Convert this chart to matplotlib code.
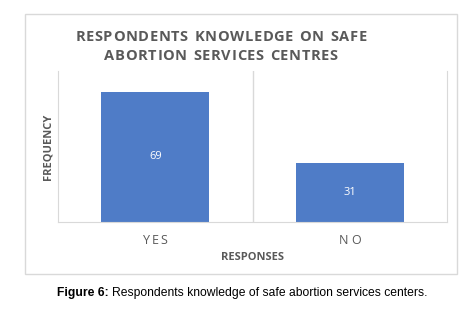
import matplotlib

matplotlib.use("Agg")

import matplotlib.pyplot as plt
from matplotlib.patches import Rectangle

categories = ["YES", "NO"]
frequency = [69, 31]
title_lines = ["RESPONDENTS KNOWLEDGE ON SAFE", "ABORTION SERVICES CENTRES"]

GREY_TEXT = "#595959"
GRID = "#d9d9d9"
BAR = "#4f7cc7"

fig = plt.figure(figsize=(4.72, 3.10), dpi=100, facecolor="white")
renderer = fig.canvas.get_renderer()


def spaced_text(cx, y, s, spacing_px, **kw):
    # draw a string letter by letter with extra tracking, centred on cx (pixels)
    widths = []
    for ch in s:
        t = fig.text(0, 0, ch if ch != " " else "n", **kw)
        w = t.get_window_extent(renderer).width
        widths.append(w * (0.55 if ch == " " else 1.0))
        t.remove()
    total = sum(widths) + spacing_px * (len(s) - 1)
    px = cx - total / 2
    for ch, w in zip(s, widths):
        if ch != " ":
            fig.text(px / 472, 1 - y / 310, ch, ha="left", va="center", **kw)
        px += w + spacing_px


# outer chart border
fig.add_artist(Rectangle((25 / 472, 1 - 274 / 310), 432 / 472, 260 / 310,
                         transform=fig.transFigure, fill=False, edgecolor=GRID, linewidth=1))

ax = fig.add_axes([58 / 472, 1 - 222 / 310, 389 / 472, 151 / 310])
x = list(range(len(categories)))
bars = ax.bar(x, frequency, width=0.555, color=BAR, zorder=2)
ax.set_xlim(-0.5, len(categories) - 0.5)
ax.set_ylim(0, 80)
ax.axvline(0.5, color=GRID, linewidth=1, zorder=1)
for side in ("left", "right", "bottom"):
    ax.spines[side].set_color(GRID)
ax.spines["top"].set_visible(False)
ax.set_yticks([])
ax.set_xticks([])

tick_style = dict(fontsize=9, color=GREY_TEXT, family="Open Sans")
for i, lab in enumerate(categories):
    cx = 58 + 389 * (i + 0.5) / len(categories)
    spaced_text(cx, 240, lab, 1.5 if lab == "YES" else 3.0, **tick_style)

for rect, val in zip(bars, frequency):
    ax.text(rect.get_x() + rect.get_width() / 2, val / 2, str(val), ha="center", va="center",
            color="white", fontsize=8, family="Open Sans")

fig.text(252 / 472, 1 - 258 / 310, "RESPONSES", ha="center", va="center", fontsize=8,
         color=GREY_TEXT, fontweight="bold", family="Open Sans")
fig.text(48 / 472, 1 - 147 / 310, "FREQUENCY", ha="center", va="center", rotation=90,
         fontsize=8, color=GREY_TEXT, fontweight="bold", family="Open Sans")

title_style = dict(fontsize=10.5, fontweight="bold", color=GREY_TEXT, family="Open Sans")
spaced_text(221, 37, title_lines[0], 0.6, **title_style)
spaced_text(221, 56, title_lines[1], 0.6, **title_style)

caption = fig.text(57 / 472, 1 - 293 / 310, "Figure 6:", ha="left", va="center",
                   fontsize=8.75, fontweight="bold", color="black", family="Liberation Sans")
bb = caption.get_window_extent(renderer).transformed(fig.transFigure.inverted())
fig.text(bb.x1 + 3 / 472, 1 - 293 / 310, "Respondents knowledge of safe abortion services centers.",
         ha="left", va="center", fontsize=8.75, color="black", family="Liberation Sans")

fig.savefig("out.png", dpi=100, facecolor="white")
